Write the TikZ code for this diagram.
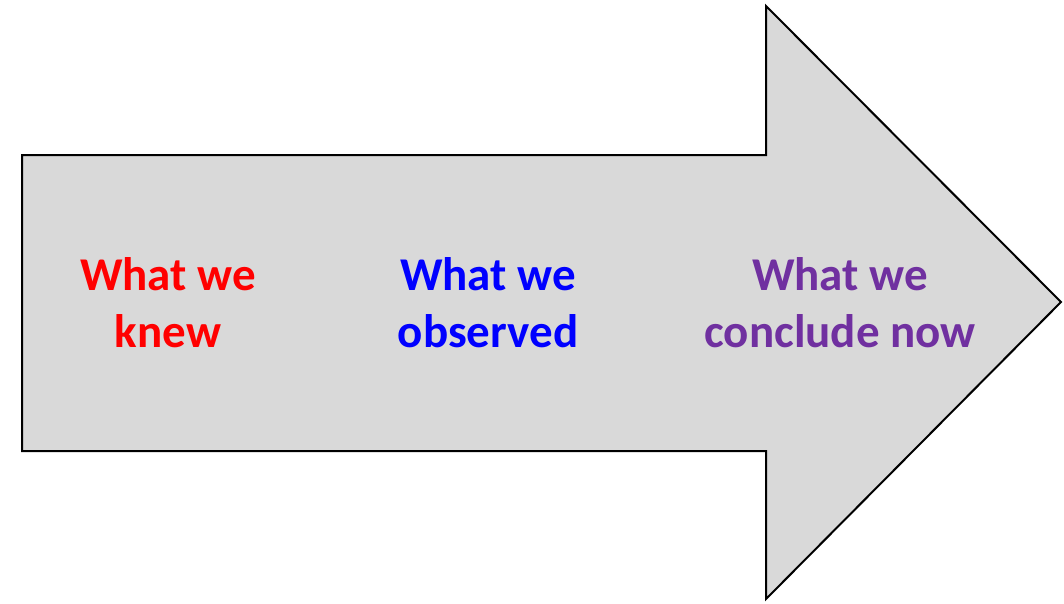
\documentclass[tikz,border=0pt]{standalone}
\usepackage{fontspec}
\setmainfont{Carlito}
\usetikzlibrary{calc}
\definecolor{arrowgray}{HTML}{D9D9D9}
\definecolor{knewred}{HTML}{FF0000}
\definecolor{obsblue}{HTML}{0000FF}
\definecolor{nowpurple}{HTML}{7030A0}
\tikzset{
  label text/.style={font=\bfseries\fontsize{47}{57}\selectfont, align=center, inner sep=0pt}
}
\begin{document}
\begin{tikzpicture}[x=1pt,y=-1pt]
\useasboundingbox (0,0) rectangle (1064,603);
% Corners of the arrow
\coordinate (tail-top) at (22,155);
\coordinate (tail-bottom) at (22,451);
\coordinate (neck-top) at (766,155);
\coordinate (neck-bottom) at (766,451);
\coordinate (head-top) at (766,6);
\coordinate (head-bottom) at (766,599);
\coordinate (tip) at (1061,302);
% Draw the arrow
\draw[line width=2pt, fill=arrowgray, line join=miter]
  (tail-top) -- (neck-top) -- (head-top) -- (tip) -- (head-bottom)
  -- (neck-bottom) -- (tail-bottom) -- cycle;
% Draw the three labels
\node[label text, text=knewred] (knew) at (168,303) {What we\\knew};
\node[label text, text=obsblue] (observed) at (488,303) {What we\\observed};
\node[label text, text=nowpurple] (now) at (840,303) {What we\\conclude now};
\end{tikzpicture}
\end{document}
